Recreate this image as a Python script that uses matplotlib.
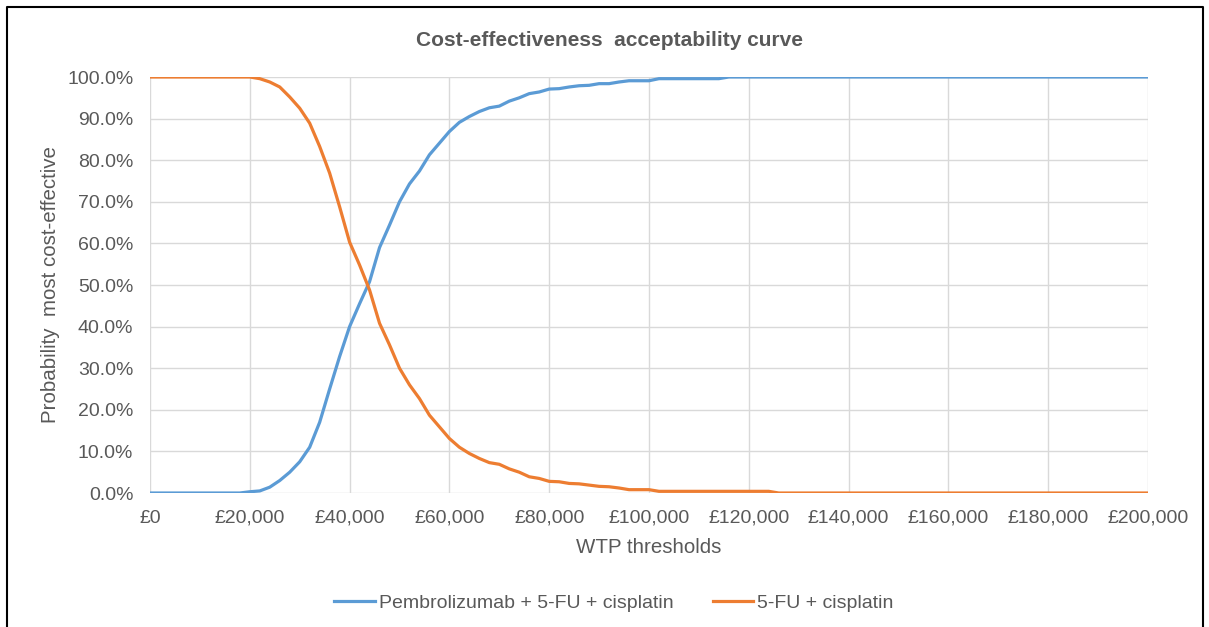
import matplotlib
matplotlib.use("Agg")
import matplotlib.pyplot as plt
from matplotlib.ticker import FuncFormatter
from matplotlib.lines import Line2D

plt.rcParams['font.family'] = ['Liberation Sans', 'DejaVu Sans']

# WTP thresholds every £2,000 from £0 to £200,000
wtp = list(range(0, 200001, 2000))

# probability most cost-effective (%)
pembro = [0, 0, 0, 0, 0, 0, 0, 0, 0, 0,
          0.3, 0.5, 1.4, 3.0, 5.0, 7.5, 11.0, 17.0, 25.0, 32.8,
          40.0, 45.5, 50.8, 59.0, 64.4, 70.0, 74.3, 77.4, 81.3, 84.1,
          86.9, 89.1, 90.5, 91.7, 92.6, 93.0, 94.2, 95.0, 96.0, 96.4,
          97.1, 97.2, 97.6, 97.9, 98.0, 98.4, 98.4, 98.8, 99.1, 99.1,
          99.1] + [99.6] * 7 + [100.0] * 43
cispl = [100, 100, 100, 100, 100, 100, 100, 100, 100, 100,
         100, 99.6, 98.8, 97.6, 95.2, 92.5, 88.9, 83.3, 76.9, 68.8,
         60.3, 54.8, 48.8, 40.8, 35.6, 30.0, 26.0, 22.7, 18.7, 15.9,
         13.1, 11.0, 9.5, 8.3, 7.3, 6.9, 5.8, 5.0, 3.9, 3.5,
         2.8, 2.7, 2.3, 2.2, 1.9, 1.6, 1.5, 1.2, 0.8, 0.8,
         0.8, 0.4, 0.4, 0.4, 0.4, 0.4, 0.4, 0.4, 0.4, 0.4,
         0.4, 0.4, 0.4] + [0.0] * 38

labels = ["Pembrolizumab + 5-FU + cisplatin", "5-FU + cisplatin"]
colors = ["#5B9BD5", "#ED7D31"]
txt = "#595959"

fig = plt.figure(figsize=(12.09, 6.27), dpi=100)
ax = fig.add_axes([150 / 1209, 1 - 493 / 627, 998 / 1209, 416 / 627])

ax.plot(wtp, pembro, color=colors[0], lw=2.3, label=labels[0], zorder=3)
ax.plot(wtp, cispl, color=colors[1], lw=2.3, label=labels[1], zorder=3)

ax.set_xlim(0, 200000)
ax.set_ylim(0, 100)
ax.set_xticks(range(0, 200001, 20000))
ax.set_yticks(range(0, 101, 10))
ax.xaxis.set_major_formatter(FuncFormatter(lambda v, p: "£{:,.0f}".format(v)))
ax.yaxis.set_major_formatter(FuncFormatter(lambda v, p: "{:.1f}%".format(v)))
ax.grid(True, color="#D9D9D9", lw=1.0, zorder=0)
for s in ax.spines.values():
    s.set_visible(False)
ax.tick_params(length=0, labelsize=14, colors=txt)
ax.tick_params(axis='y', pad=12)
ax.tick_params(axis='x', pad=12)

ax.set_xlabel("WTP thresholds", fontsize=14.8, color=txt, labelpad=8)
ax.set_ylabel("Probability  most cost-effective", fontsize=14.8, color=txt, labelpad=5)
fig.text(610 / 1209, 1 - 40 / 627, "Cost-effectiveness  acceptability curve",
         ha="center", va="center", fontsize=15, fontweight="bold", color=txt)

fig.legend(loc="center", bbox_to_anchor=(614 / 1209, 1 - 603 / 627), ncol=2,
           frameon=False, fontsize=14, labelcolor=txt, handlelength=2.1,
           handletextpad=0.2, columnspacing=2.0)

# outer frame around the chart (left, top, right)
fig.add_artist(Line2D([7 / 1209, 7 / 1209, 1203 / 1209, 1203 / 1209],
                      [0, 1 - 7 / 627, 1 - 7 / 627, 0],
                      transform=fig.transFigure, color="black", lw=1.5))

fig.savefig("out.png", dpi=100)
